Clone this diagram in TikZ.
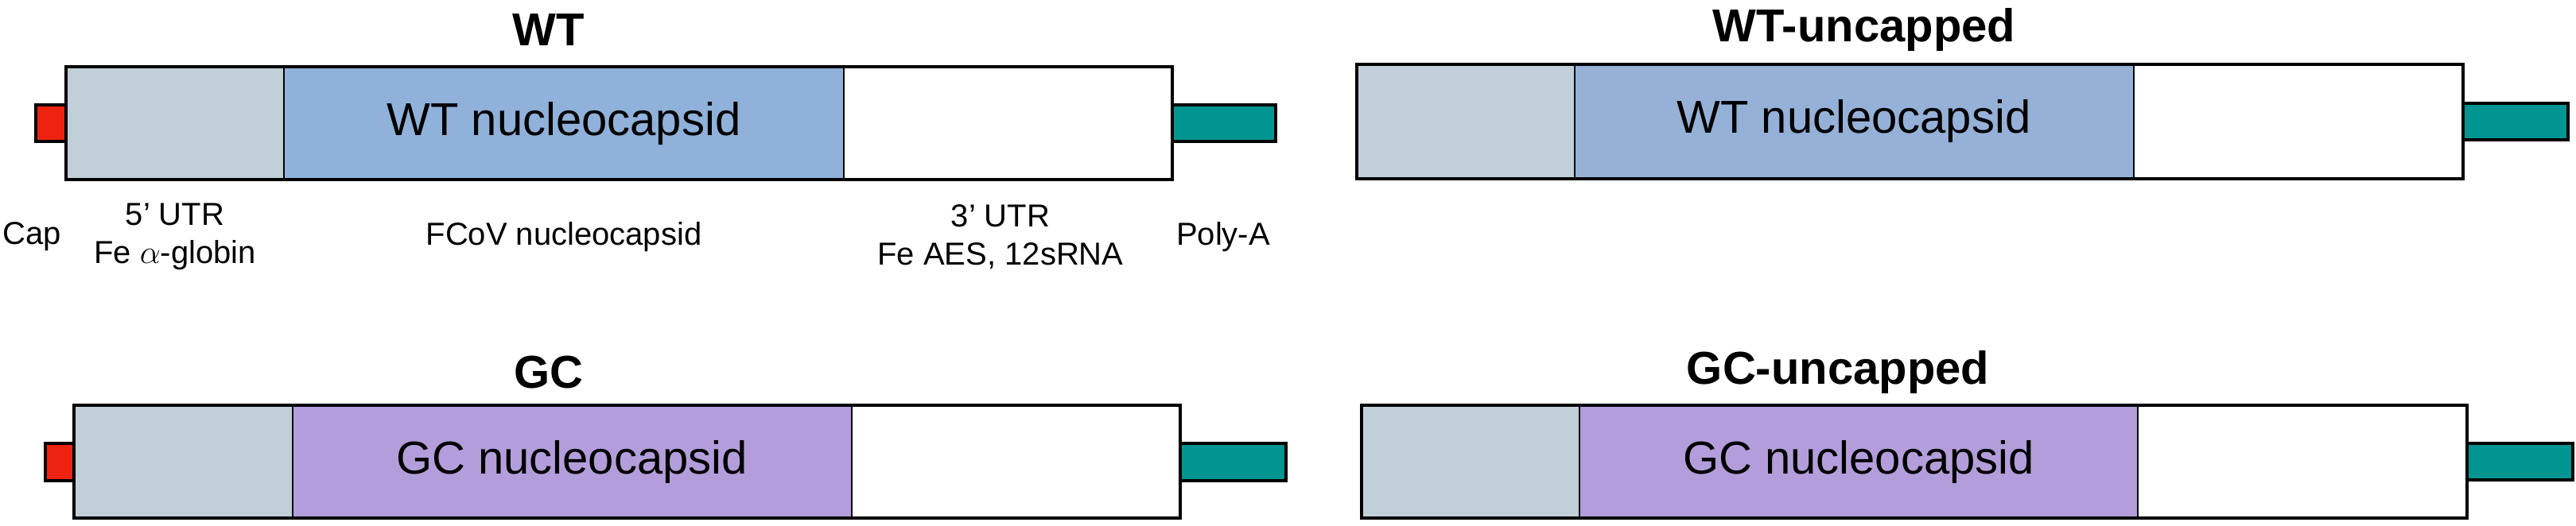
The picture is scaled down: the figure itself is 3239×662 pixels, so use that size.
\documentclass[tikz,border=0pt]{standalone}
\usepackage{fontspec}
\setmainfont{Liberation Sans}
\definecolor{utr}{HTML}{C1CFD8}
\definecolor{wtb}{HTML}{8FB1DA}
\definecolor{wtb2}{HTML}{96B1D8}
\definecolor{gcp}{HTML}{B39EDB}
\definecolor{capr}{HTML}{EE2211}
\definecolor{polya}{HTML}{009590}
\begin{document}
\begin{tikzpicture}[x=0.5pt,y=-0.5pt,
  outer/.style={line width=1.6pt},
  inner/.style={line width=1pt},
  title/.style={font=\bfseries\fontsize{29}{32}\selectfont},
  inlab/.style={font=\fontsize{29}{32}\selectfont},
  lab/.style={font=\fontsize{20}{23}\selectfont, align=center}]
\useasboundingbox (0,0) rectangle (3239,662);
% WT
\fill[utr] (83,84) rectangle (357,226);
\fill[wtb] (357,84) rectangle (1061,226);
\draw[inner] (357,84) -- (357,226) (1061,84) -- (1061,226);
\draw[outer] (83,84) rectangle (1474,226);
\draw[outer,fill=capr] (45,132) rectangle (83,178);
\draw[outer,fill=polya] (1474,132) rectangle (1604,178);
\node[title] (t1) at (690,38) {WT};
\node[inlab] (n1) at (709,156) {WT nucleocapsid};
\node[lab] (cap) at (40,298) {Cap};
\node[lab] (utr5) at (220,298) {5’ UTR\\[1pt]Fe $\alpha$-globin};
\node[lab] (fcov) at (709,298) {FCoV nucleocapsid};
\node[lab] (utr3) at (1258,298) {3’ UTR\\[1pt]Fe AES, 12sRNA};
\node[lab] (pa) at (1538,298) {Poly-A};
% GC
\fill[utr] (93,510) rectangle (368,652);
\fill[gcp] (368,510) rectangle (1071,652);
\draw[inner] (368,510) -- (368,652) (1071,510) -- (1071,652);
\draw[outer] (93,510) rectangle (1484,652);
\draw[outer,fill=capr] (57,558) rectangle (93,605);
\draw[outer,fill=polya] (1484,558) rectangle (1617,605);
\node[title] (t2) at (690,469) {GC};
\node[inlab] (n2) at (719,582) {GC nucleocapsid};
% WT-uncapped
\fill[utr] (1706,81) rectangle (1980,225);
\fill[wtb2] (1980,81) rectangle (2683,225);
\draw[inner] (1980,81) -- (1980,225) (2683,81) -- (2683,225);
\draw[outer] (1706,81) rectangle (3097,225);
\draw[outer,fill=polya] (3097,130) rectangle (3229,176);
\node[title] (t3) at (2344,38) {WT-uncapped};
\node[inlab] (n3) at (2331,153) {WT nucleocapsid};
% GC-uncapped
\fill[utr] (1712,510) rectangle (1986,652);
\fill[gcp] (1986,510) rectangle (2688,652);
\draw[inner] (1986,510) -- (1986,652) (2688,510) -- (2688,652);
\draw[outer] (1712,510) rectangle (3102,652);
\draw[outer,fill=polya] (3102,558) rectangle (3235,604);
\node[title] (t4) at (2311,469) {GC-uncapped};
\node[inlab] (n4) at (2337,582) {GC nucleocapsid};
\end{tikzpicture}
\end{document}
